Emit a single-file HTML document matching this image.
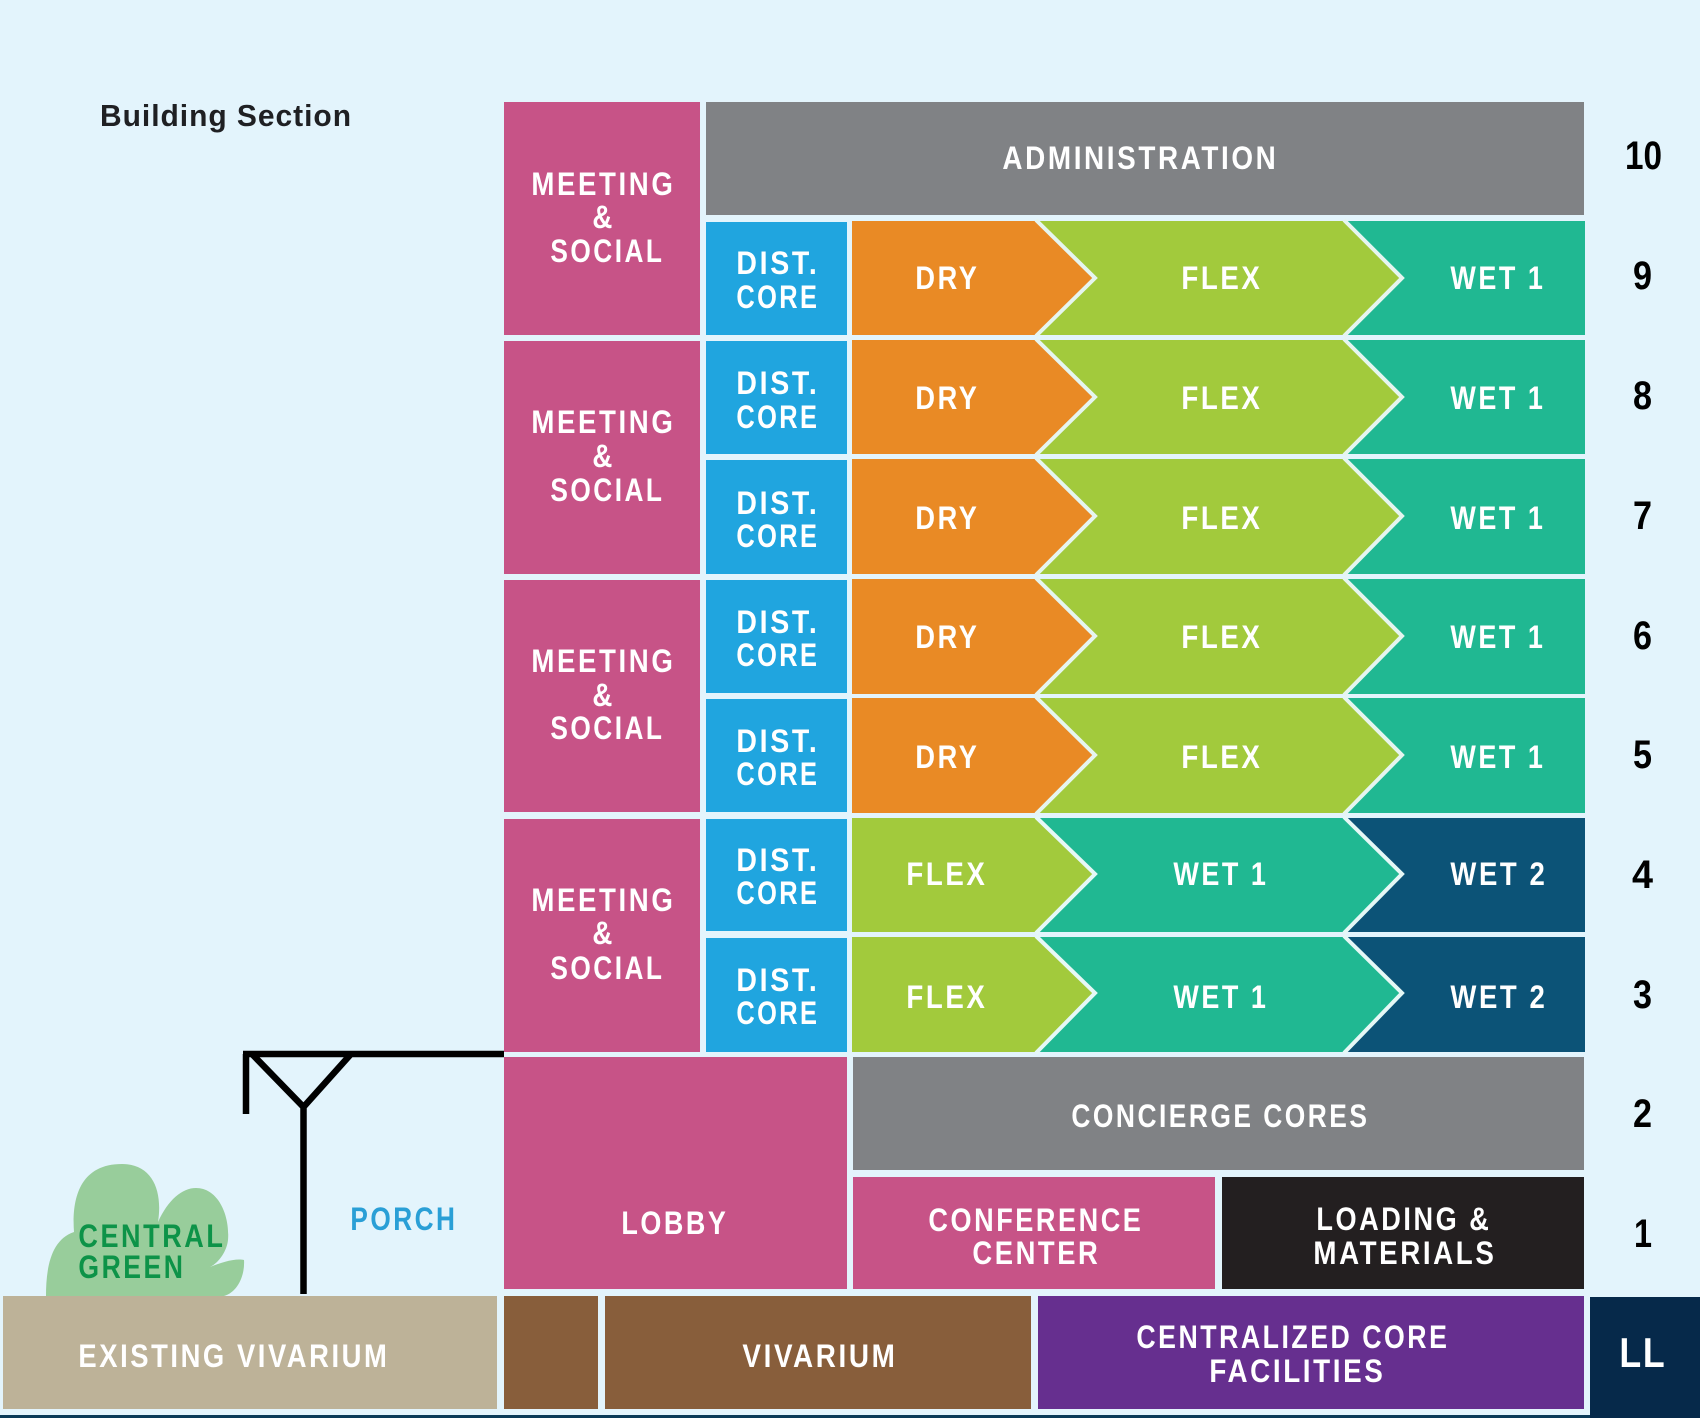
<!DOCTYPE html>
<html lang="en">
<head>
<meta charset="utf-8">
<title>Building Section</title>
<style>
html,body{margin:0;padding:0;background:#e3f4fc}
svg{display:block}
text{font-family:"Liberation Sans",sans-serif;font-weight:bold;font-size:32px;fill:#fff;letter-spacing:3px}
.n{fill:#000;font-size:40px;letter-spacing:0}
</style>
</head>
<body>
<svg xmlns="http://www.w3.org/2000/svg" width="1700" height="1418" viewBox="0 0 1700 1418">
<rect width="1700" height="1418" fill="#e3f4fc"/>
<rect y="1415" width="1700" height="3" fill="#0a3a58"/>

<!-- left column + top -->
<rect x="504" y="102" width="196" height="233" fill="#c75387"/>
<rect x="504" y="341" width="196" height="233" fill="#c75387"/>
<rect x="504" y="580" width="196" height="232" fill="#c75387"/>
<rect x="504" y="819" width="196" height="233" fill="#c75387"/>
<rect x="706" y="102" width="878" height="113" fill="#808285"/>

<!-- dist core -->
<rect x="706" y="222" width="141" height="113" fill="#20a5df"/>
<rect x="706" y="341" width="141" height="113" fill="#20a5df"/>
<rect x="706" y="460" width="141" height="114" fill="#20a5df"/>
<rect x="706" y="580" width="141" height="113" fill="#20a5df"/>
<rect x="706" y="699" width="141" height="113" fill="#20a5df"/>
<rect x="706" y="819" width="141" height="112" fill="#20a5df"/>
<rect x="706" y="938" width="141" height="114" fill="#20a5df"/>

<!-- chevron rows -->
<g transform="translate(0,221)">
<rect x="1340" width="245" height="114" fill="#20b892"/>
<polygon points="1036,0 1344,0 1402,57 1344,114 1036,114" fill="#a2ca3c"/>
<polygon points="852,0 1036,0 1094.5,57 1036,114 852,114" fill="#e98a25"/>
<polyline points="1036,-1 1095,57 1036,115" fill="none" stroke="#e6f5ef" stroke-width="4"/>
<polyline points="1344,-1 1402,57 1344,115" fill="none" stroke="#e6f5ef" stroke-width="4"/>
</g>
<g transform="translate(0,340)">
<rect x="1340" width="245" height="114" fill="#20b892"/>
<polygon points="1036,0 1344,0 1402,57 1344,114 1036,114" fill="#a2ca3c"/>
<polygon points="852,0 1036,0 1094.5,57 1036,114 852,114" fill="#e98a25"/>
<polyline points="1036,-1 1095,57 1036,115" fill="none" stroke="#e6f5ef" stroke-width="4"/>
<polyline points="1344,-1 1402,57 1344,115" fill="none" stroke="#e6f5ef" stroke-width="4"/>
</g>
<g transform="translate(0,459)">
<rect x="1340" width="245" height="115" fill="#20b892"/>
<polygon points="1036,0 1344,0 1402,57 1344,115 1036,115" fill="#a2ca3c"/>
<polygon points="852,0 1036,0 1094.5,57 1036,115 852,115" fill="#e98a25"/>
<polyline points="1036,-1 1095,57 1036,116" fill="none" stroke="#e6f5ef" stroke-width="4"/>
<polyline points="1344,-1 1402,57 1344,116" fill="none" stroke="#e6f5ef" stroke-width="4"/>
</g>
<g transform="translate(0,579)">
<rect x="1340" width="245" height="115" fill="#20b892"/>
<polygon points="1036,0 1344,0 1402,57 1344,115 1036,115" fill="#a2ca3c"/>
<polygon points="852,0 1036,0 1094.5,57 1036,115 852,115" fill="#e98a25"/>
<polyline points="1036,-1 1095,57 1036,116" fill="none" stroke="#e6f5ef" stroke-width="4"/>
<polyline points="1344,-1 1402,57 1344,116" fill="none" stroke="#e6f5ef" stroke-width="4"/>
</g>
<g transform="translate(0,698)">
<rect x="1340" width="245" height="115" fill="#20b892"/>
<polygon points="1036,0 1344,0 1402,57 1344,115 1036,115" fill="#a2ca3c"/>
<polygon points="852,0 1036,0 1094.5,57 1036,115 852,115" fill="#e98a25"/>
<polyline points="1036,-1 1095,57 1036,116" fill="none" stroke="#e6f5ef" stroke-width="4"/>
<polyline points="1344,-1 1402,57 1344,116" fill="none" stroke="#e6f5ef" stroke-width="4"/>
</g>
<g transform="translate(0,818)">
<rect x="1340" width="245" height="114" fill="#0c5377"/>
<polygon points="1036,0 1344,0 1402,56 1344,114 1036,114" fill="#20b892"/>
<polygon points="852,0 1036,0 1094.5,56 1036,114 852,114" fill="#a2ca3c"/>
<polyline points="1036,-1 1095,56 1036,115" fill="none" stroke="#e6f8f6" stroke-width="4"/>
<polyline points="1344,-1 1402,56 1344,115" fill="none" stroke="#e6f8f6" stroke-width="4"/>
</g>
<g transform="translate(0,937)">
<rect x="1340" width="245" height="115" fill="#0c5377"/>
<polygon points="1036,0 1344,0 1402,56 1344,115 1036,115" fill="#20b892"/>
<polygon points="852,0 1036,0 1094.5,56 1036,115 852,115" fill="#a2ca3c"/>
<polyline points="1036,-1 1095,56 1036,116" fill="none" stroke="#e6f8f6" stroke-width="4"/>
<polyline points="1344,-1 1402,56 1344,116" fill="none" stroke="#e6f8f6" stroke-width="4"/>
</g>

<!-- lower floors -->
<rect x="504" y="1057" width="343" height="232" fill="#c75387"/>
<rect x="853" y="1057" width="731" height="113" fill="#808285"/>
<rect x="853" y="1177" width="362" height="112" fill="#c75387"/>
<rect x="1222" y="1177" width="362" height="112" fill="#231f20"/>
<rect x="3" y="1296" width="494" height="113" fill="#bdb298"/>
<rect x="504" y="1296" width="94" height="113" fill="#885e3b"/>
<rect x="605" y="1296" width="426" height="113" fill="#885e3b"/>
<rect x="1038" y="1296" width="546" height="113" fill="#662f8f"/>
<rect x="1590" y="1297" width="110" height="121" fill="#06294a"/>

<!-- canopy -->
<path d="M243 1054H504M246 1054V1114M252 1054L303.5 1107L351 1054M303.5 1105V1294" fill="none" stroke="#000" stroke-width="6.5"/>

<!-- bush -->
<path d="M46 1296C46 1270 50 1240 74 1232C72 1205 76 1164 122 1164C152 1164 163 1190 158 1222C168 1200 182 1188 196 1188C218 1188 230 1215 228 1240C227 1250 220 1262 210 1267C222 1262 236 1258 244 1260C245 1275 238 1292 224 1296Z" fill="#98cd9b"/>

<!-- title -->
<text x="100" y="126" textLength="252" lengthAdjust="spacingAndGlyphs" style="font-size:31px;letter-spacing:1px;fill:#1f2023">Building Section</text>

<g transform="translate(-0.6,0)">
<!-- meeting -->
<text x="532" y="195" textLength="144" lengthAdjust="spacingAndGlyphs">MEETING</text>
<text x="593" y="228" textLength="20" lengthAdjust="spacingAndGlyphs" style="letter-spacing:0">&amp;</text>
<text x="551" y="262" textLength="114" lengthAdjust="spacingAndGlyphs">SOCIAL</text>
<text x="532" y="433" textLength="144" lengthAdjust="spacingAndGlyphs">MEETING</text>
<text x="593" y="467" textLength="20" lengthAdjust="spacingAndGlyphs" style="letter-spacing:0">&amp;</text>
<text x="551" y="501" textLength="114" lengthAdjust="spacingAndGlyphs">SOCIAL</text>
<text x="532" y="672" textLength="144" lengthAdjust="spacingAndGlyphs">MEETING</text>
<text x="593" y="706" textLength="20" lengthAdjust="spacingAndGlyphs" style="letter-spacing:0">&amp;</text>
<text x="551" y="739" textLength="114" lengthAdjust="spacingAndGlyphs">SOCIAL</text>
<text x="532" y="911" textLength="144" lengthAdjust="spacingAndGlyphs">MEETING</text>
<text x="593" y="944" textLength="20" lengthAdjust="spacingAndGlyphs" style="letter-spacing:0">&amp;</text>
<text x="551" y="979" textLength="114" lengthAdjust="spacingAndGlyphs">SOCIAL</text>

<!-- dist core text -->
<text x="737" y="274" textLength="83" lengthAdjust="spacingAndGlyphs">DIST.</text>
<text x="737" y="308" textLength="83" lengthAdjust="spacingAndGlyphs">CORE</text>
<text x="737" y="394" textLength="83" lengthAdjust="spacingAndGlyphs">DIST.</text>
<text x="737" y="428" textLength="83" lengthAdjust="spacingAndGlyphs">CORE</text>
<text x="737" y="514" textLength="83" lengthAdjust="spacingAndGlyphs">DIST.</text>
<text x="737" y="547" textLength="83" lengthAdjust="spacingAndGlyphs">CORE</text>
<text x="737" y="633" textLength="83" lengthAdjust="spacingAndGlyphs">DIST.</text>
<text x="737" y="666" textLength="83" lengthAdjust="spacingAndGlyphs">CORE</text>
<text x="737" y="752" textLength="83" lengthAdjust="spacingAndGlyphs">DIST.</text>
<text x="737" y="785" textLength="83" lengthAdjust="spacingAndGlyphs">CORE</text>
<text x="737" y="871" textLength="83" lengthAdjust="spacingAndGlyphs">DIST.</text>
<text x="737" y="904" textLength="83" lengthAdjust="spacingAndGlyphs">CORE</text>
<text x="737" y="991" textLength="83" lengthAdjust="spacingAndGlyphs">DIST.</text>
<text x="737" y="1024" textLength="83" lengthAdjust="spacingAndGlyphs">CORE</text>

<!-- row labels -->
<text x="916" y="289" textLength="64" lengthAdjust="spacingAndGlyphs">DRY</text>
<text x="1182" y="289" textLength="81" lengthAdjust="spacingAndGlyphs">FLEX</text>
<text x="1451" y="289" textLength="95" lengthAdjust="spacingAndGlyphs">WET 1</text>
<text x="916" y="409" textLength="64" lengthAdjust="spacingAndGlyphs">DRY</text>
<text x="1182" y="409" textLength="81" lengthAdjust="spacingAndGlyphs">FLEX</text>
<text x="1451" y="409" textLength="95" lengthAdjust="spacingAndGlyphs">WET 1</text>
<text x="916" y="529" textLength="64" lengthAdjust="spacingAndGlyphs">DRY</text>
<text x="1182" y="529" textLength="81" lengthAdjust="spacingAndGlyphs">FLEX</text>
<text x="1451" y="529" textLength="95" lengthAdjust="spacingAndGlyphs">WET 1</text>
<text x="916" y="648" textLength="64" lengthAdjust="spacingAndGlyphs">DRY</text>
<text x="1182" y="648" textLength="81" lengthAdjust="spacingAndGlyphs">FLEX</text>
<text x="1451" y="648" textLength="95" lengthAdjust="spacingAndGlyphs">WET 1</text>
<text x="916" y="768" textLength="64" lengthAdjust="spacingAndGlyphs">DRY</text>
<text x="1182" y="768" textLength="81" lengthAdjust="spacingAndGlyphs">FLEX</text>
<text x="1451" y="768" textLength="95" lengthAdjust="spacingAndGlyphs">WET 1</text>
<text x="907" y="885" textLength="81" lengthAdjust="spacingAndGlyphs">FLEX</text>
<text x="1174" y="885" textLength="95" lengthAdjust="spacingAndGlyphs">WET 1</text>
<text x="1451" y="885" textLength="97" lengthAdjust="spacingAndGlyphs">WET 2</text>
<text x="907" y="1008" textLength="81" lengthAdjust="spacingAndGlyphs">FLEX</text>
<text x="1174" y="1008" textLength="95" lengthAdjust="spacingAndGlyphs">WET 1</text>
<text x="1451" y="1008" textLength="97" lengthAdjust="spacingAndGlyphs">WET 2</text>

<!-- other labels -->
<text x="1003" y="169" textLength="276" lengthAdjust="spacingAndGlyphs">ADMINISTRATION</text>
<text x="1072" y="1127" textLength="298" lengthAdjust="spacingAndGlyphs">CONCIERGE CORES</text>
<text x="622" y="1234" textLength="107" lengthAdjust="spacingAndGlyphs">LOBBY</text>
<text x="929" y="1231" textLength="215" lengthAdjust="spacingAndGlyphs">CONFERENCE</text>
<text x="973" y="1264" textLength="128" lengthAdjust="spacingAndGlyphs">CENTER</text>
<text x="1317" y="1230" textLength="175" lengthAdjust="spacingAndGlyphs">LOADING &amp;</text>
<text x="1314" y="1264" textLength="183" lengthAdjust="spacingAndGlyphs">MATERIALS</text>
<text x="79" y="1367" textLength="311" lengthAdjust="spacingAndGlyphs">EXISTING VIVARIUM</text>
<text x="743" y="1367" textLength="155" lengthAdjust="spacingAndGlyphs">VIVARIUM</text>
<text x="1137" y="1348" textLength="313" lengthAdjust="spacingAndGlyphs">CENTRALIZED CORE</text>
<text x="1210" y="1382" textLength="176" lengthAdjust="spacingAndGlyphs">FACILITIES</text>
<text x="351" y="1230" textLength="107" lengthAdjust="spacingAndGlyphs" style="fill:#2a9fd6">PORCH</text>
<text x="79" y="1247" textLength="147" lengthAdjust="spacingAndGlyphs" style="fill:#0d9348">CENTRAL</text>
<text x="79" y="1278" textLength="107" lengthAdjust="spacingAndGlyphs" style="fill:#0d9348">GREEN</text>
<text x="1620" y="1367" textLength="47" lengthAdjust="spacingAndGlyphs" style="font-size:42px;letter-spacing:2px">LL</text>
</g>

<!-- floor numbers -->
<text class="n" x="1625" y="169" textLength="37" lengthAdjust="spacingAndGlyphs">10</text>
<text class="n" x="1633" y="289" textLength="19" lengthAdjust="spacingAndGlyphs">9</text>
<text class="n" x="1633" y="409" textLength="19" lengthAdjust="spacingAndGlyphs">8</text>
<text class="n" x="1633" y="529" textLength="19" lengthAdjust="spacingAndGlyphs">7</text>
<text class="n" x="1633" y="649" textLength="19" lengthAdjust="spacingAndGlyphs">6</text>
<text class="n" x="1633" y="768" textLength="19" lengthAdjust="spacingAndGlyphs">5</text>
<text class="n" x="1632" y="888" textLength="21" lengthAdjust="spacingAndGlyphs">4</text>
<text class="n" x="1633" y="1008" textLength="19" lengthAdjust="spacingAndGlyphs">3</text>
<text class="n" x="1633" y="1127" textLength="19" lengthAdjust="spacingAndGlyphs">2</text>
<text class="n" x="1634" y="1247" textLength="18" lengthAdjust="spacingAndGlyphs">1</text>
</svg>
</body>
</html>
